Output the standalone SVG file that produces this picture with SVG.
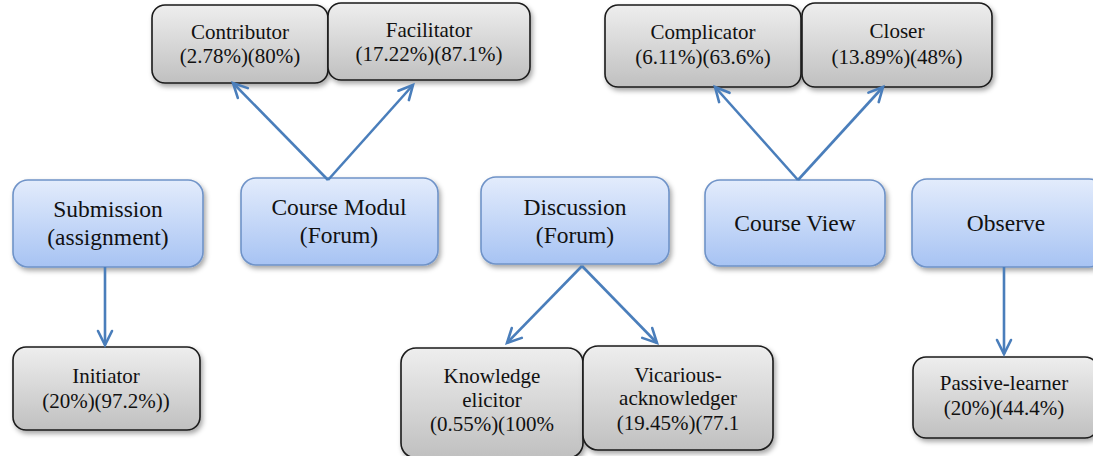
<svg xmlns="http://www.w3.org/2000/svg" width="1093" height="456" viewBox="0 0 1093 456">
<defs>
<linearGradient id="gGray" x1="0" y1="0" x2="0" y2="1">
<stop offset="0" stop-color="#eeeeee"/>
<stop offset="1" stop-color="#c0c0c0"/>
</linearGradient>
<linearGradient id="gBlue" x1="0" y1="0" x2="0" y2="1">
<stop offset="0" stop-color="#e3ecfc"/>
<stop offset="1" stop-color="#a7c3f3"/>
</linearGradient>
<filter id="sh" x="-10%" y="-10%" width="125%" height="135%">
<feDropShadow dx="2" dy="3" stdDeviation="2.5" flood-color="#000" flood-opacity="0.35"/>
</filter>
<marker id="arr" viewBox="0 0 20 20" refX="17" refY="10" markerWidth="20" markerHeight="20" markerUnits="userSpaceOnUse" orient="auto">
<path d="M3,3 L17,10 L3,17" fill="none" stroke="#4a7ebb" stroke-width="2.6" stroke-linecap="round" stroke-linejoin="miter"/>
</marker>
</defs>
<style>
.gray{fill:url(#gGray);stroke:#1a1a1a;stroke-width:1.6;filter:url(#sh)}
.blue{fill:url(#gBlue);stroke:#6f93c8;stroke-width:1.6;filter:url(#sh)}
.tg{font-family:"Liberation Serif","Times New Roman",serif;font-size:21px;fill:#111;text-anchor:middle}
.tb{font-family:"Liberation Serif","Times New Roman",serif;font-size:23.5px;fill:#111;text-anchor:middle}
.con{fill:none;stroke:#4a7ebb;stroke-width:2.6;marker-end:url(#arr)}
</style>
<rect width="1093" height="456" fill="#ffffff"/>

<g id="contributor">
<rect class="gray" x="152" y="5" width="176" height="78" rx="13"/>
<text class="tg" x="240" y="39">Contributor</text>
<text class="tg" x="240" y="63">(2.78%)(80%)</text>
</g>
<g id="facilitator">
<rect class="gray" x="328" y="3" width="202" height="77" rx="13"/>
<text class="tg" x="429" y="37">Facilitator</text>
<text class="tg" x="429" y="61">(17.22%)(87.1%)</text>
</g>
<g id="complicator">
<rect class="gray" x="605" y="5" width="196" height="82" rx="13"/>
<text class="tg" x="703" y="39">Complicator</text>
<text class="tg" x="703" y="64">(6.11%)(63.6%)</text>
</g>
<g id="closer">
<rect class="gray" x="802" y="3" width="190" height="84" rx="13"/>
<text class="tg" x="897" y="38">Closer</text>
<text class="tg" x="897" y="64">(13.89%)(48%)</text>
</g>

<g id="submission">
<rect class="blue" x="13" y="180" width="190" height="87" rx="15"/>
<text class="tb" x="108" y="217">Submission</text>
<text class="tb" x="108" y="245">(assignment)</text>
</g>
<g id="course-modul">
<rect class="blue" x="241" y="178" width="197" height="87" rx="15"/>
<text class="tb" x="339" y="215">Course Modul</text>
<text class="tb" x="339" y="243">(Forum)</text>
</g>
<g id="discussion">
<rect class="blue" x="481" y="177" width="188" height="87" rx="15"/>
<text class="tb" x="575" y="215">Discussion</text>
<text class="tb" x="575" y="243">(Forum)</text>
</g>
<g id="course-view">
<rect class="blue" x="705" y="180" width="180" height="86" rx="15"/>
<text class="tb" x="795" y="231">Course View</text>
</g>
<g id="observe">
<rect class="blue" x="912" y="179" width="192" height="88" rx="15"/>
<text class="tb" x="1006" y="231">Observe</text>
</g>

<g id="initiator">
<rect class="gray" x="13" y="347" width="187" height="83" rx="13"/>
<text class="tg" x="106" y="383">Initiator</text>
<text class="tg" x="106" y="408">(20%)(97.2%))</text>
</g>
<g id="knowledge-elicitor">
<rect class="gray" x="401" y="348" width="182" height="110" rx="15"/>
<text class="tg" x="492" y="383">Knowledge</text>
<text class="tg" x="492" y="407">elicitor</text>
<text class="tg" x="492" y="431">(0.55%)(100%</text>
</g>
<g id="vicarious-acknowledger">
<rect class="gray" x="583" y="346" width="190" height="104" rx="15"/>
<text class="tg" x="678" y="382">Vicarious-</text>
<text class="tg" x="678" y="405">acknowledger</text>
<text class="tg" x="678" y="430">(19.45%)(77.1</text>
</g>
<g id="passive-learner">
<rect class="gray" x="913" y="357" width="185" height="81" rx="13"/>
<text class="tg" x="1004" y="390">Passive-learner</text>
<text class="tg" x="1004" y="415">(20%)(44.4%)</text>
</g>

<g id="connectors">
<line class="con" x1="328" y1="180" x2="233" y2="83"/>
<line class="con" x1="328" y1="180" x2="413" y2="85"/>
<line class="con" x1="798" y1="180" x2="715" y2="87"/>
<line class="con" x1="798" y1="180" x2="883" y2="87"/>
<line class="con" x1="582" y1="266" x2="507" y2="343"/>
<line class="con" x1="582" y1="266" x2="657" y2="343"/>
<line class="con" x1="105" y1="267" x2="105" y2="345"/>
<line class="con" x1="1004" y1="267" x2="1004" y2="354"/>
</g>
</svg>
